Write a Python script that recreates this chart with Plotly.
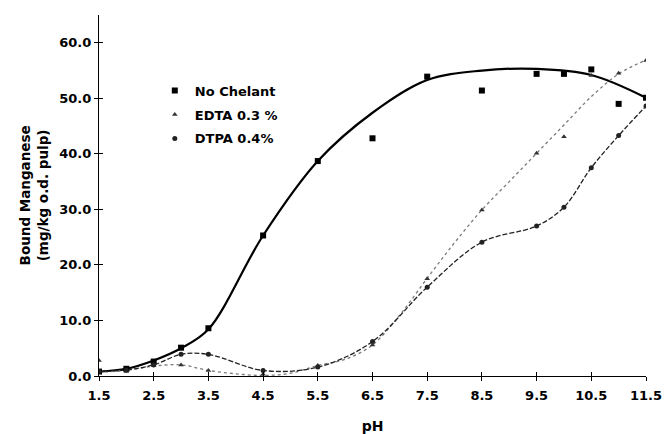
import plotly.graph_objects as go

# ---- data ----
ph = [1.5, 2, 2.5, 3, 3.5, 4.5, 5.5, 6.5, 7.5, 8.5, 9.5, 10, 10.5, 11, 11.5]
no_chelant = [0.8, 1.3, 2.6, 5.1, 8.6, 25.3, 38.7, 42.8, 53.9, 51.4, 54.4, 54.4, 55.2, 49.0, 50.1]
edta = [2.8, 0.8, 1.9, 2.0, 1.0, 0.3, 1.9, 5.6, 17.5, 29.9, 40.1, 43.1, 54.1, 54.5, 56.8]
dtpa = [0.8, 1.1, 2.0, 3.9, 3.9, 1.0, 1.6, 6.2, 16.0, 24.1, 27.0, 30.4, 37.5, 43.3, 48.6]

# fitted (trend) curves as drawn in the reference
nc_curve_ph = [1.5, 2, 2.5, 3, 3.5, 4.5, 5.5, 6.5, 7.5, 8.5, 9.5, 10.5, 11.5]
no_chelant_curve = [0.8, 1.3, 2.8, 5.0, 8.4, 25.3, 38.7, 47.4, 53.3, 55.0, 55.3, 54.2, 50.1]
edta_curve_ph = [1.5, 2, 2.5, 3, 3.5, 4, 4.5, 5, 5.5, 6, 6.5, 7, 7.5, 8, 8.5, 9, 9.5, 10, 10.5, 11, 11.5]
edta_curve = [0.7, 1.0, 1.8, 2.0, 1.0, 0.4, 0.1, 0.5, 1.9, 3.0, 5.6, 11.0, 17.6, 24.0,
              29.9, 35.0, 40.1, 45.2, 50.3, 54.4, 56.9]

x_ticks = [1.5, 2.5, 3.5, 4.5, 5.5, 6.5, 7.5, 8.5, 9.5, 10.5, 11.5]
y_ticks = [0, 10, 20, 30, 40, 50, 60]

FONT = "DejaVu Sans"

fig = go.Figure()

# trend lines
fig.add_trace(go.Scatter(x=nc_curve_ph, y=no_chelant_curve, mode="lines", showlegend=False,
                         line=dict(color="black", width=2.2, shape="spline", smoothing=1.0),
                         hoverinfo="skip"))
fig.add_trace(go.Scatter(x=edta_curve_ph, y=edta_curve, mode="lines", showlegend=False,
                         line=dict(color="#7a7a7a", width=1.3, shape="spline", dash="dot"),
                         hoverinfo="skip"))
fig.add_trace(go.Scatter(x=ph, y=dtpa, mode="lines", showlegend=False,
                         line=dict(color="#222222", width=1.3, shape="spline", dash="5px,2px"),
                         hoverinfo="skip"))

# data markers
fig.add_trace(go.Scatter(x=ph, y=no_chelant, mode="markers", name="No Chelant",
                         legendgroup="a",
                         marker=dict(symbol="square", size=6, color="black")))
fig.add_trace(go.Scatter(x=ph, y=edta, mode="markers", name="EDTA 0.3 %",
                         legendgroup="b",
                         marker=dict(symbol="triangle-up", size=5, color="#333333")))
fig.add_trace(go.Scatter(x=ph, y=dtpa, mode="markers", name="DTPA 0.4%",
                         legendgroup="c",
                         marker=dict(symbol="circle", size=5, color="#222222")))

# dummy trace for overlay axes (inner half of crossing ticks)
fig.add_trace(go.Scatter(x=[], y=[], xaxis="x2", yaxis="y2", showlegend=False))

fig.update_layout(
    width=670, height=434,
    margin=dict(l=99, r=24, t=15, b=58),
    paper_bgcolor="white", plot_bgcolor="white",
    font=dict(family=FONT, size=13, color="black"),
    xaxis=dict(range=[1.5, 11.5], tickvals=x_ticks, ticktext=[str(v) for v in x_ticks],
               showgrid=False, zeroline=False, showline=True, linecolor="black", linewidth=1.2,
               ticks="outside", ticklen=4, tickcolor="black", tickwidth=1,
               ticklabelstandoff=3, automargin=False,
               tickfont=dict(family=FONT, size=13, weight="bold"),
               title=dict(text="pH", font=dict(family=FONT, size=14, weight="bold"), standoff=22)),
    yaxis=dict(range=[0, 65], tickvals=y_ticks, ticktext=[f"{v:.1f}" for v in y_ticks],
               showgrid=False, zeroline=False, showline=True, linecolor="black", linewidth=1.2,
               ticks="outside", ticklen=4, tickcolor="black", tickwidth=1, automargin=False,
               tickfont=dict(family=FONT, size=13, weight="bold")),
    xaxis2=dict(overlaying="x", range=[1.5, 11.5], tickvals=x_ticks, showticklabels=False,
                showgrid=False, zeroline=False, showline=False, ticks="inside", ticklen=4,
                tickcolor="black", side="bottom", automargin=False),
    yaxis2=dict(overlaying="y", range=[0, 65], tickvals=y_ticks, showticklabels=False,
                showgrid=False, zeroline=False, showline=False, ticks="inside", ticklen=4,
                tickcolor="black", side="left", automargin=False),
    legend=dict(x=0.102, y=0.832, xanchor="left", yanchor="top", bgcolor="rgba(0,0,0,0)",
                font=dict(family=FONT, size=13, weight="bold"),
                traceorder="grouped", tracegroupgap=4),
    annotations=[dict(text="Bound Manganese<br>(mg/kg o.d. pulp)", xref="paper", yref="paper",
                      x=-0.119, y=0.5, xanchor="center", yanchor="middle", textangle=-90,
                      showarrow=False, font=dict(family=FONT, size=13.5, weight="bold"))],
)

fig.write_html("out.html")
